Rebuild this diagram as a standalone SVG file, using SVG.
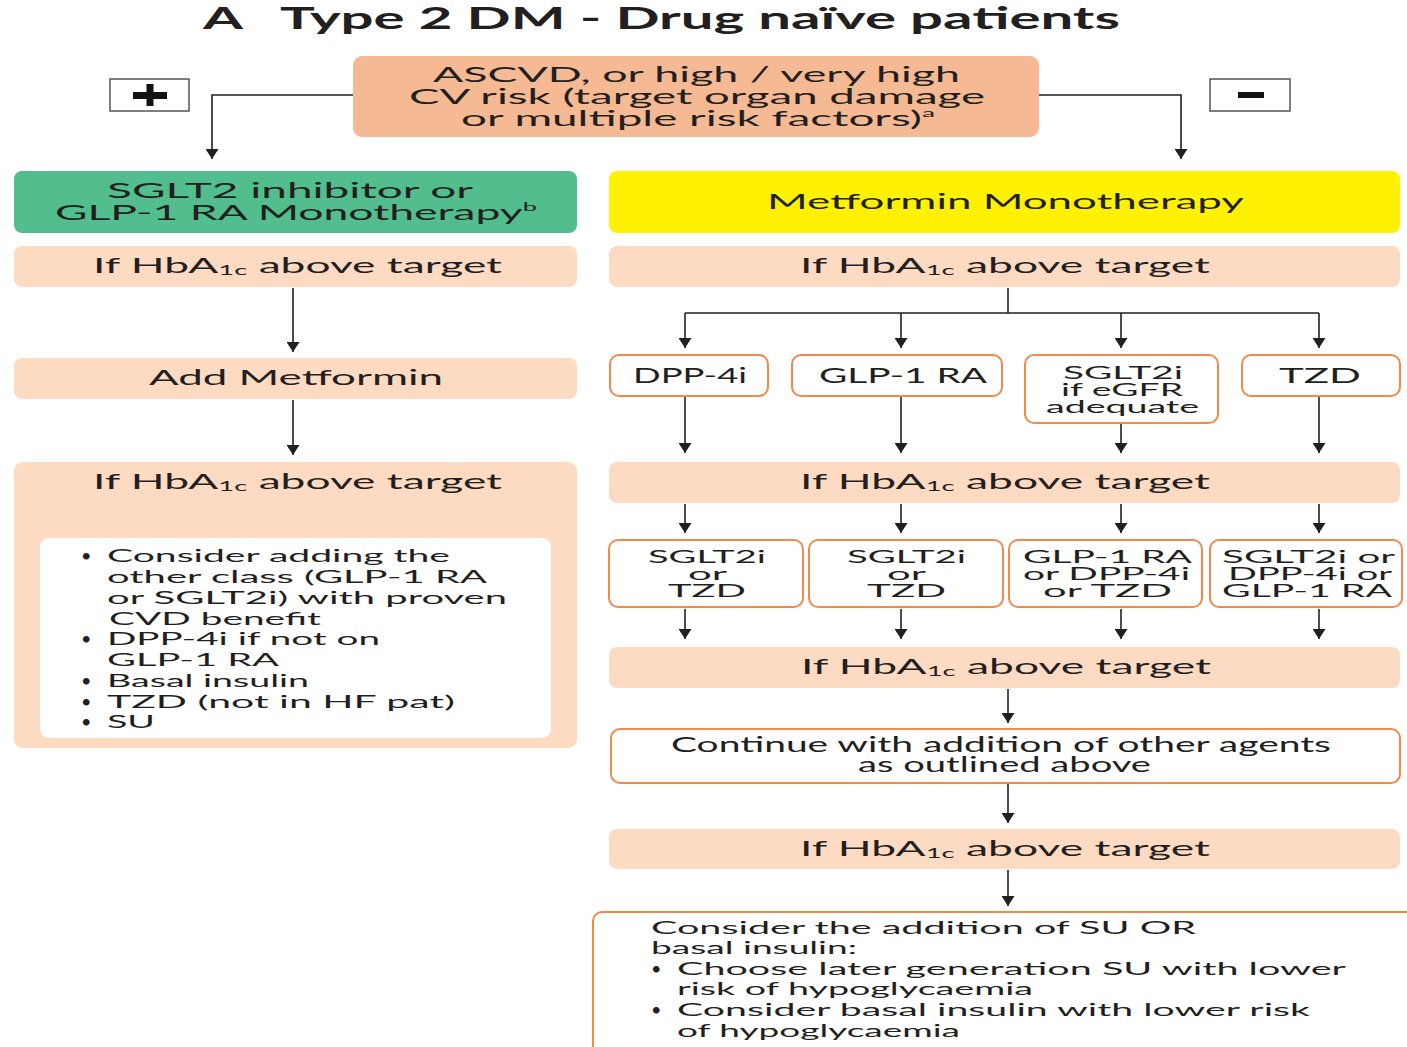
<svg xmlns="http://www.w3.org/2000/svg" width="1407" height="1047" viewBox="0 0 1407 1047">
  <style>
    .t { font-family: Lato, "Open Sans", "Liberation Sans", sans-serif; font-size: 21px; fill: #231f20; }
    .sm { font-size: 18px; }
    .xs { font-size: 17px; }
    .title { font-family: Lato, "Open Sans", "Liberation Sans", sans-serif; font-size: 31px; font-weight: bold; fill: #231f20; }
    .sub { font-size: 13px; }
    .sup { font-size: 12px; }
    .risk { fill: #f5ba94; }
    .green { fill: #52be8e; }
    .yellow { fill: #fff100; }
    .peach { fill: #fddbc3; }
    .outline { fill: #ffffff; stroke: #f0894b; stroke-width: 2; }
    .sign { fill: #ffffff; stroke: #555555; stroke-width: 1.5; }
    .conn path { fill: none; stroke: #231f20; stroke-width: 1.6; }
    .arr { marker-end: url(#head); }
  </style>
  <defs>
    <marker id="head" viewBox="0 0 10 13" markerWidth="10" markerHeight="13" refX="10" refY="6.5" orient="auto" markerUnits="userSpaceOnUse">
      <path d="M0,0 L10,6.5 L0,13 z" fill="#231f20"/>
    </marker>
  </defs>

  <rect width="1407" height="1047" fill="#ffffff"/>

  <!-- heading -->
  <g id="heading">
    <text class="title" x="203" y="29" textLength="40" lengthAdjust="spacingAndGlyphs">A</text>
    <text class="title" x="280" y="29" textLength="840" lengthAdjust="spacingAndGlyphs">Type 2 DM - Drug naïve patients</text>
  </g>

  <!-- connectors -->
  <g id="connectors" class="conn">
    <path class="arr" d="M353 95 H212 V159"/>
    <path class="arr" d="M1039 95 H1181 V159"/>
    <path class="arr" d="M293 288 V352"/>
    <path class="arr" d="M293 400 V455"/>
    <path class="arr" d="M293 497 V531"/>
    <path d="M1008 288 V313 M685 313 H1319"/>
    <path class="arr" d="M685 313 V348"/>
    <path class="arr" d="M901 313 V348"/>
    <path class="arr" d="M1121 313 V348"/>
    <path class="arr" d="M1319 313 V348"/>
    <path class="arr" d="M685 397 V453"/>
    <path class="arr" d="M901 397 V453"/>
    <path class="arr" d="M1121 424 V453"/>
    <path class="arr" d="M1319 397 V453"/>
    <path class="arr" d="M685 504 V533"/>
    <path class="arr" d="M901 504 V533"/>
    <path class="arr" d="M1121 504 V533"/>
    <path class="arr" d="M1319 504 V533"/>
    <path class="arr" d="M685 609 V639"/>
    <path class="arr" d="M901 609 V639"/>
    <path class="arr" d="M1121 609 V639"/>
    <path class="arr" d="M1319 609 V639"/>
    <path class="arr" d="M1008 689 V723"/>
    <path class="arr" d="M1008 784 V823"/>
    <path class="arr" d="M1008 870 V906"/>
  </g>

  <!-- plus / minus branch signs -->
  <g id="plus">
    <rect class="sign" x="110" y="79" width="79" height="32"/>
    <rect x="133" y="92" width="34" height="7" fill="#111111"/>
    <rect x="146.5" y="84" width="7" height="22" fill="#111111"/>
  </g>
  <g id="minus">
    <rect class="sign" x="1210" y="79" width="80" height="32"/>
    <rect x="1238" y="92" width="26" height="6" fill="#111111"/>
  </g>

  <!-- risk question -->
  <g id="risk">
    <rect class="risk" x="353" y="56" width="686" height="81" rx="9"/>
    <text class="t" x="433" y="82" textLength="527" lengthAdjust="spacingAndGlyphs">ASCVD, or high / very high</text>
    <text class="t" x="409" y="104" textLength="576" lengthAdjust="spacingAndGlyphs">CV risk (target organ damage</text>
    <text class="t" x="461" y="126" textLength="474" lengthAdjust="spacingAndGlyphs">or multiple risk factors)<tspan class="sup" dy="-9">a</tspan></text>
  </g>

  <!-- left pathway -->
  <g id="sglt2-glp1">
    <rect class="green" x="14" y="171" width="563" height="62" rx="8"/>
    <text class="t" x="107" y="198" textLength="366" lengthAdjust="spacingAndGlyphs">SGLT2 inhibitor or</text>
    <text class="t" x="55" y="220" textLength="482" lengthAdjust="spacingAndGlyphs">GLP-1 RA Monotherapy<tspan class="sup" dy="-9">b</tspan></text>
  </g>
  <g id="left-hba1c-1">
    <rect class="peach" x="14" y="246" width="563" height="41" rx="8"/>
    <text class="t" x="93" y="273" textLength="409" lengthAdjust="spacingAndGlyphs">If HbA<tspan class="sub" dy="2">1c</tspan><tspan dy="-2"> above target</tspan></text>
  </g>
  <g id="add-metformin">
    <rect class="peach" x="14" y="358" width="563" height="41" rx="8"/>
    <text class="t" x="149" y="385" textLength="294" lengthAdjust="spacingAndGlyphs">Add Metformin</text>
  </g>
  <g id="left-hba1c-2">
    <rect class="peach" x="14" y="462" width="563" height="286" rx="9"/>
    <text class="t" x="93" y="489" textLength="409" lengthAdjust="spacingAndGlyphs">If HbA<tspan class="sub" dy="2">1c</tspan><tspan dy="-2"> above target</tspan></text>
  </g>
  <g id="left-options">
    <rect x="40" y="538" width="511" height="200" rx="9" fill="#ffffff"/>
    <g class="t sm">
      <text x="81" y="562">•</text>
      <text x="107" y="562" textLength="343" lengthAdjust="spacingAndGlyphs">Consider adding the</text>
      <text x="107" y="583" textLength="380" lengthAdjust="spacingAndGlyphs">other class (GLP-1 RA</text>
      <text x="107" y="604" textLength="400" lengthAdjust="spacingAndGlyphs">or SGLT2i) with proven</text>
      <text x="109" y="625" textLength="212" lengthAdjust="spacingAndGlyphs">CVD benefit</text>
      <text x="81" y="645">•</text>
      <text x="107" y="645" textLength="273" lengthAdjust="spacingAndGlyphs">DPP-4i if not on</text>
      <text x="107" y="666" textLength="172" lengthAdjust="spacingAndGlyphs">GLP-1 RA</text>
      <text x="81" y="687">•</text>
      <text x="107" y="687" textLength="202" lengthAdjust="spacingAndGlyphs">Basal insulin</text>
      <text x="81" y="708">•</text>
      <text x="107" y="708" textLength="348" lengthAdjust="spacingAndGlyphs">TZD (not in HF pat)</text>
      <text x="81" y="728">•</text>
      <text x="107" y="728" textLength="48" lengthAdjust="spacingAndGlyphs">SU</text>
    </g>
  </g>

  <!-- right pathway -->
  <g id="metformin-mono">
    <rect class="yellow" x="609" y="171" width="791" height="62" rx="8"/>
    <text class="t" x="767" y="209" textLength="477" lengthAdjust="spacingAndGlyphs">Metformin Monotherapy</text>
  </g>
  <g id="right-hba1c-1">
    <rect class="peach" x="609" y="246" width="791" height="41" rx="8"/>
    <text class="t" x="800" y="273" textLength="410" lengthAdjust="spacingAndGlyphs">If HbA<tspan class="sub" dy="2">1c</tspan><tspan dy="-2"> above target</tspan></text>
  </g>

  <g id="dpp4i">
    <rect class="outline" x="610" y="355" width="158" height="41" rx="9"/>
    <text class="t" x="633" y="383" textLength="114" lengthAdjust="spacingAndGlyphs">DPP-4i</text>
  </g>
  <g id="glp1ra">
    <rect class="outline" x="792" y="355" width="210" height="41" rx="9"/>
    <text class="t" x="819" y="383" textLength="168" lengthAdjust="spacingAndGlyphs">GLP-1 RA</text>
  </g>
  <g id="sglt2i">
    <rect class="outline" x="1025" y="355" width="193" height="68" rx="9"/>
    <text class="t xs" x="1063" y="379" textLength="120" lengthAdjust="spacingAndGlyphs">SGLT2i</text>
    <text class="t xs" x="1061" y="396" textLength="122" lengthAdjust="spacingAndGlyphs">if eGFR</text>
    <text class="t xs" x="1046" y="413" textLength="153" lengthAdjust="spacingAndGlyphs">adequate</text>
  </g>
  <g id="tzd">
    <rect class="outline" x="1242" y="355" width="158" height="41" rx="9"/>
    <text class="t" x="1279" y="383" textLength="82" lengthAdjust="spacingAndGlyphs">TZD</text>
  </g>

  <g id="right-hba1c-2">
    <rect class="peach" x="609" y="462" width="791" height="41" rx="8"/>
    <text class="t" x="800" y="489" textLength="410" lengthAdjust="spacingAndGlyphs">If HbA<tspan class="sub" dy="2">1c</tspan><tspan dy="-2"> above target</tspan></text>
  </g>

  <g id="add-after-dpp4i">
    <rect class="outline" x="609" y="540" width="194" height="67" rx="9"/>
    <text class="t xs" x="648" y="563" textLength="118" lengthAdjust="spacingAndGlyphs">SGLT2i</text>
    <text class="t xs" x="688" y="580" textLength="39" lengthAdjust="spacingAndGlyphs">or</text>
    <text class="t xs" x="668" y="597" textLength="78" lengthAdjust="spacingAndGlyphs">TZD</text>
  </g>
  <g id="add-after-glp1ra">
    <rect class="outline" x="809" y="540" width="194" height="67" rx="9"/>
    <text class="t xs" x="847" y="563" textLength="119" lengthAdjust="spacingAndGlyphs">SGLT2i</text>
    <text class="t xs" x="887" y="580" textLength="39" lengthAdjust="spacingAndGlyphs">or</text>
    <text class="t xs" x="867" y="597" textLength="79" lengthAdjust="spacingAndGlyphs">TZD</text>
  </g>
  <g id="add-after-sglt2i">
    <rect class="outline" x="1009" y="540" width="193" height="67" rx="9"/>
    <text class="t xs" x="1023" y="563" textLength="169" lengthAdjust="spacingAndGlyphs">GLP-1 RA</text>
    <text class="t xs" x="1023" y="580" textLength="167" lengthAdjust="spacingAndGlyphs">or DPP-4i</text>
    <text class="t xs" x="1043" y="597" textLength="129" lengthAdjust="spacingAndGlyphs">or TZD</text>
  </g>
  <g id="add-after-tzd">
    <rect class="outline" x="1210" y="540" width="192" height="67" rx="9"/>
    <text class="t xs" x="1222" y="563" textLength="173" lengthAdjust="spacingAndGlyphs">SGLT2i or</text>
    <text class="t xs" x="1228" y="580" textLength="164" lengthAdjust="spacingAndGlyphs">DPP-4i or</text>
    <text class="t xs" x="1222" y="597" textLength="170" lengthAdjust="spacingAndGlyphs">GLP-1 RA</text>
  </g>

  <g id="right-hba1c-3">
    <rect class="peach" x="609" y="647" width="791" height="41" rx="8"/>
    <text class="t" x="801" y="674" textLength="410" lengthAdjust="spacingAndGlyphs">If HbA<tspan class="sub" dy="2">1c</tspan><tspan dy="-2"> above target</tspan></text>
  </g>
  <g id="continue">
    <rect class="outline" x="611" y="729" width="789" height="54" rx="9"/>
    <text class="t" x="671" y="752" textLength="660" lengthAdjust="spacingAndGlyphs">Continue with addition of other agents</text>
    <text class="t" x="858" y="772" textLength="293" lengthAdjust="spacingAndGlyphs">as outlined above</text>
  </g>
  <g id="right-hba1c-4">
    <rect class="peach" x="609" y="829" width="791" height="40" rx="8"/>
    <text class="t" x="800" y="856" textLength="410" lengthAdjust="spacingAndGlyphs">If HbA<tspan class="sub" dy="2">1c</tspan><tspan dy="-2"> above target</tspan></text>
  </g>
  <g id="su-or-insulin">
    <rect class="outline" x="593" y="912" width="840" height="160" rx="9"/>
    <g class="t sm">
      <text x="651" y="934" textLength="545" lengthAdjust="spacingAndGlyphs">Consider the addition of SU OR</text>
      <text x="651" y="954" textLength="206" lengthAdjust="spacingAndGlyphs">basal insulin:</text>
      <text x="651" y="975">•</text>
      <text x="677" y="975" textLength="669" lengthAdjust="spacingAndGlyphs">Choose later generation SU with lower</text>
      <text x="677" y="995" textLength="356" lengthAdjust="spacingAndGlyphs">risk of hypoglycaemia</text>
      <text x="651" y="1016">•</text>
      <text x="677" y="1016" textLength="633" lengthAdjust="spacingAndGlyphs">Consider basal insulin with lower risk</text>
      <text x="677" y="1037" textLength="283" lengthAdjust="spacingAndGlyphs">of hypoglycaemia</text>
    </g>
  </g>
</svg>
